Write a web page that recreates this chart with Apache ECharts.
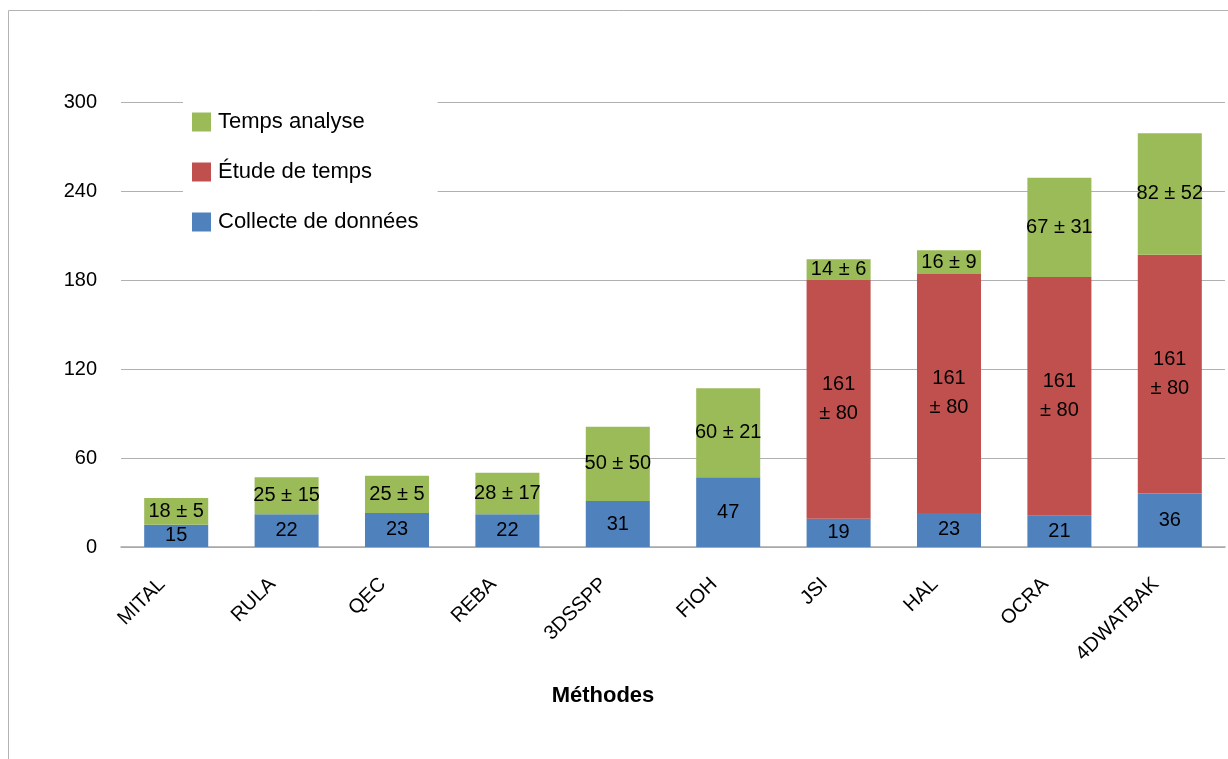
<!DOCTYPE html>
<html>
<head>
<meta charset="UTF-8">
<title>Méthodes</title>
<script type="text/javascript" src="https://cdn.jsdelivr.net/npm/echarts@6/dist/echarts.min.js"></script>
<style>
  html, body { margin:0; padding:0; background:#fff; }
</style>
</head>
<body>
	<div id="box" style="width:1228px;height:759px;"></div>
	<script type="text/javascript">
		var categories = ['MITAL','RULA','QEC','REBA','3DSSPP','FIOH','JSI','HAL','OCRA','4DWATBAK'];
		var collecte = [15, 22, 23, 22, 31, 47, 19, 23, 21, 36];
		var etude = [null, null, null, null, null, null, 161, 161, 161, 161];
		var analyse = [18, 25, 25, 28, 50, 60, 14, 16, 67, 82];
		var etudeLabels = ['', '', '', '', '', '', '161\n± 80', '161\n± 80', '161\n± 80', '161\n± 80'];
		var analyseLabels = ['18 ± 5','25 ± 15','25 ± 5','28 ± 17','50 ± 50','60 ± 21','14 ± 6','16 ± 9','67 ± 31','82 ± 52'];

		var font = '"Liberation Sans", Arial, sans-serif';
		var mychart = echarts.init(document.getElementById('box'));

		function lbl(texts) {
			return {
				show: true,
				position: 'inside',
				color: '#000',
				fontFamily: font,
				fontSize: 20,
				lineHeight: 29,
				formatter: function (p) { return texts ? texts[p.dataIndex] : String(p.value); }
			};
		}

		var option = {
			animation: false,
			backgroundColor: '#fff',
			graphic: [{
				type: 'rect',
				shape: { x: 8.5, y: 10.5, width: 1300, height: 800 },
				style: { fill: 'none', stroke: '#b3b3b3', lineWidth: 1 },
				z: -1
			}, {
				type: 'text',
				x: 603,
				y: 696,
				style: {
					text: 'Méthodes',
					font: 'bold 22px "Liberation Sans", Arial, sans-serif',
					fill: '#000',
					align: 'center',
					verticalAlign: 'middle'
				}
			}],
			legend: {
				orient: 'vertical',
				left: 183,
				top: 90,
				icon: 'rect',
				itemWidth: 19,
				itemHeight: 19,
				itemGap: 28,
				padding: [21, 19, 12, 9],
				backgroundColor: '#fff',
				textStyle: { fontFamily: font, fontSize: 22, color: '#000', padding: [0, 0, 0, 2] },
				data: ['Temps analyse', 'Étude de temps', 'Collecte de données'],
				z: 10
			},
			grid: { left: 121, right: 3, top: 102, bottom: 212 },
			xAxis: {
				type: 'category',
				data: categories,
				axisLine: { lineStyle: { color: '#a6a6a6', width: 1.5 } },
				axisTick: { show: false },
				axisLabel: {
					rotate: 45, fontFamily: font, fontSize: 20, color: '#000',
					margin: 20, padding: [0, 20, 0, 0], interval: 0
				}
			},
			yAxis: {
				type: 'value',
				min: 0,
				max: 300,
				interval: 60,
				axisLine: { show: false },
				axisTick: { show: false },
				axisLabel: { fontFamily: font, fontSize: 20, color: '#000', margin: 24 },
				splitLine: { lineStyle: { color: '#b0b0b0', width: 1 } }
			},
			series: [{
				name: 'Collecte de données',
				type: 'bar',
				stack: 'total',
				barWidth: '58%',
				itemStyle: { color: '#4f81bd' },
				label: lbl(null),
				data: collecte
			}, {
				name: 'Étude de temps',
				type: 'bar',
				stack: 'total',
				itemStyle: { color: '#c0504d' },
				label: lbl(etudeLabels),
				data: etude
			}, {
				name: 'Temps analyse',
				type: 'bar',
				stack: 'total',
				itemStyle: { color: '#9bbb59' },
				label: lbl(analyseLabels),
				data: analyse
			}]
		};
		mychart.setOption(option);
	</script>
</body>
</html>
